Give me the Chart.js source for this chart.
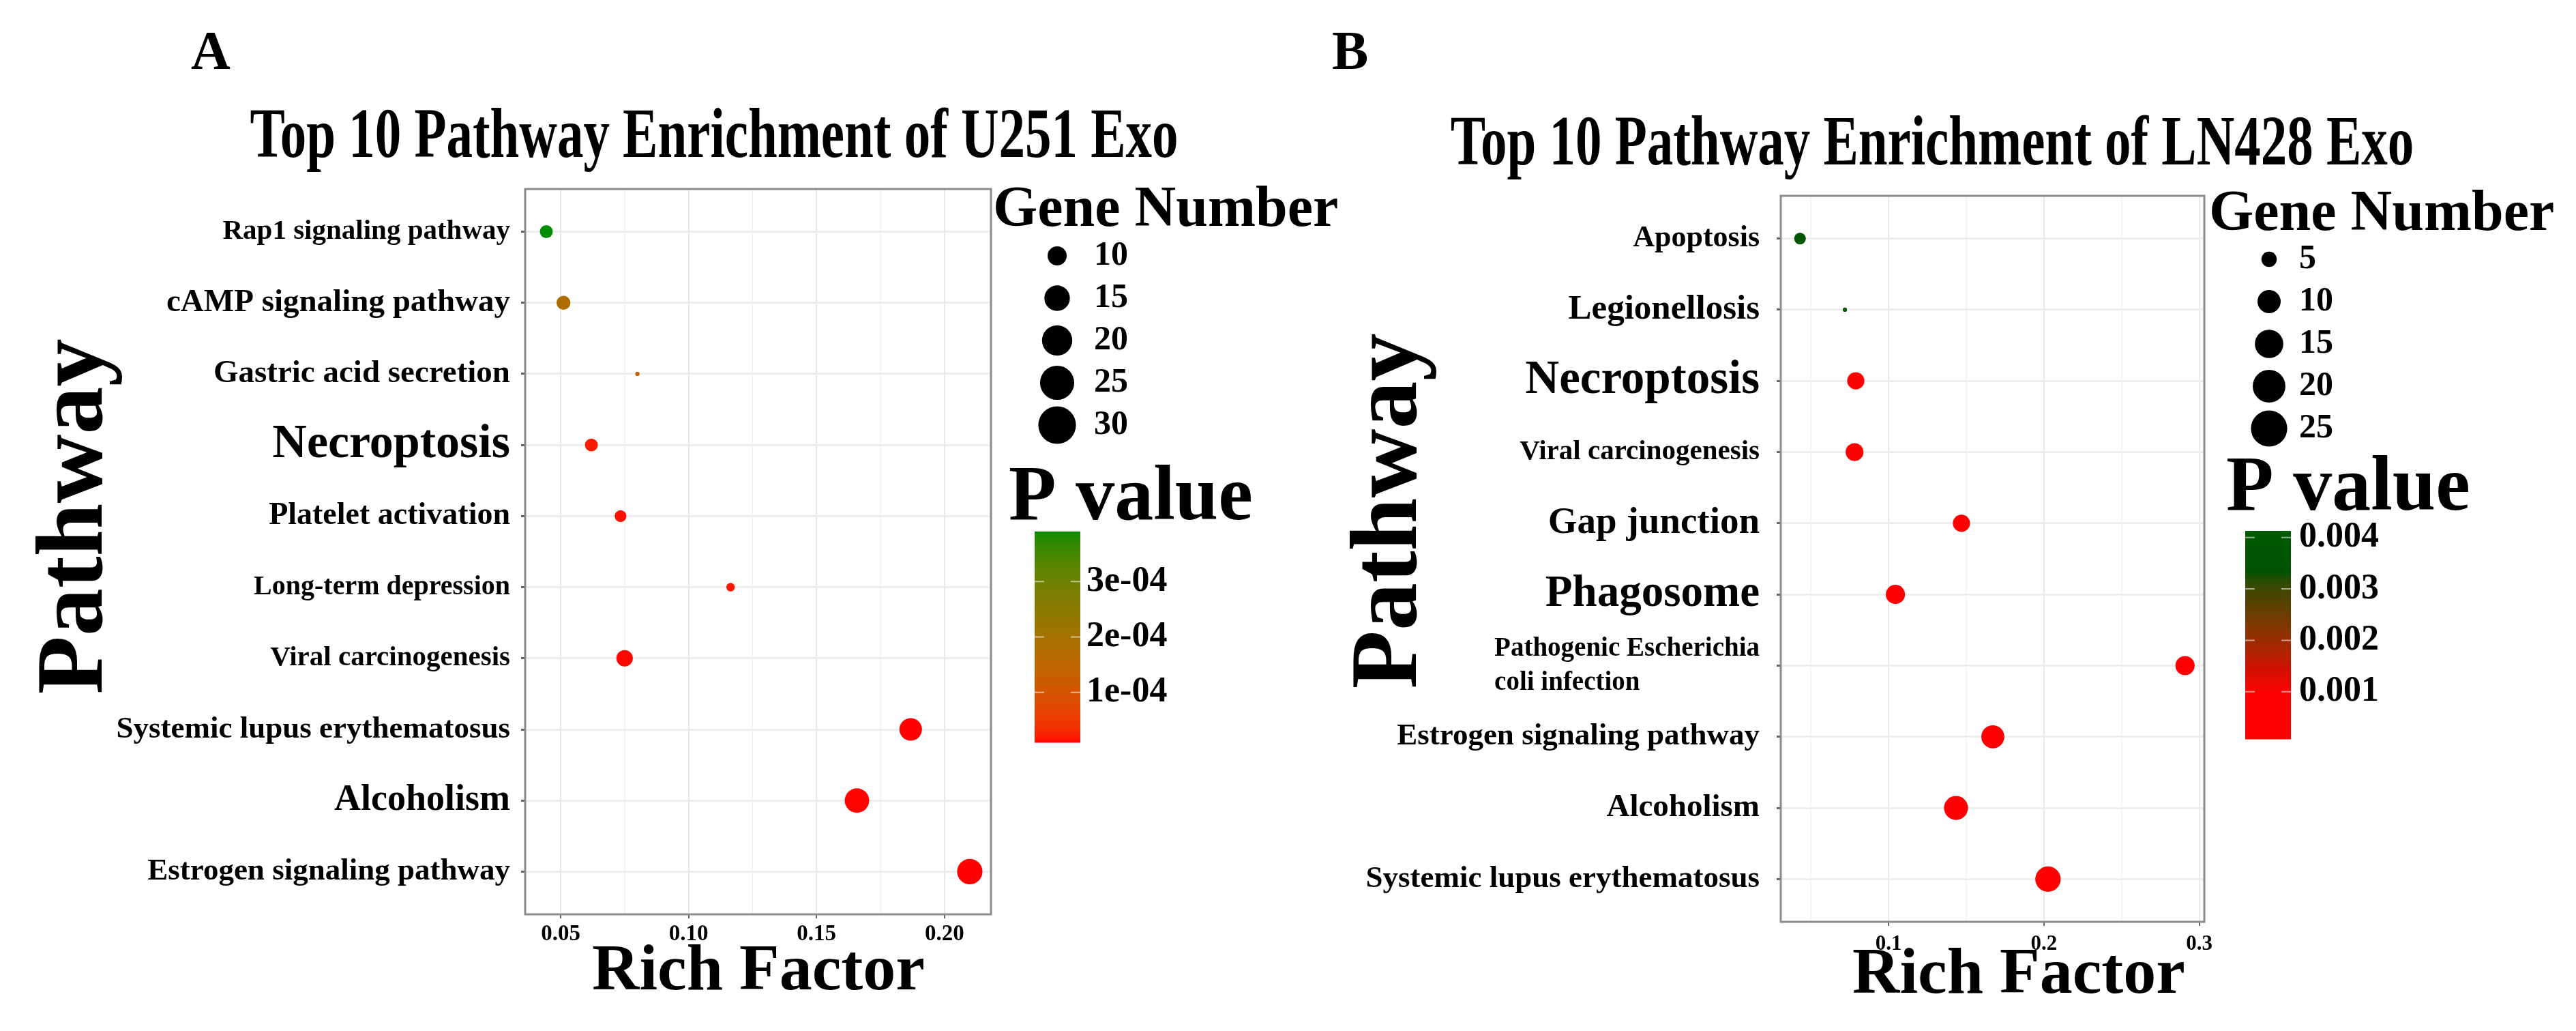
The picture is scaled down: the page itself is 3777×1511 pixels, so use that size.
<!DOCTYPE html>
<html>
<head>
<meta charset="utf-8">
<script src="https://cdn.jsdelivr.net/npm/chart.js@4/dist/chart.umd.min.js"></script>
<style>
  html, body { margin: 0; padding: 0; background: #fff; }
  #wrap { position: relative; width: 3777px; height: 1511px; }
  .panel { position: absolute; top: 0; height: 1511px; }
  #panelA { left: 0; width: 2000px; }
  #panelB { left: 1888px; width: 1889px; }
</style>
</head>
<body>
<div id="wrap">
  <div class="panel" id="panelA"><canvas id="chartA"></canvas></div>
  <div class="panel" id="panelB"><canvas id="chartB"></canvas></div>
</div>
<script>
// Panel A - U251 Exo
const pathwaysA = ['Rap1 signaling pathway', 'cAMP signaling pathway', 'Gastric acid secretion', 'Necroptosis',
  'Platelet activation', 'Long-term depression', 'Viral carcinogenesis', 'Systemic lupus erythematosus',
  'Alcoholism', 'Estrogen signaling pathway'];
const richA = [0.0444, 0.0511, 0.0800, 0.0620, 0.0734, 0.1164, 0.0750, 0.1868, 0.1658, 0.2099];
const genesA = [10, 11, 6, 10, 9, 7, 14, 24, 28, 30];
const pvalA = [3.9e-4, 1.8e-4, 1.25e-4, 2.0e-5, 1.5e-5, 1.8e-5, 1.2e-5, 1.0e-5, 1.1e-5, 1.0e-5];
const xTicksA = [0.05, 0.10, 0.15, 0.20];
const xTickLabelsA = ['0.05', '0.10', '0.15', '0.20'];
const sizeBreaksA = [10, 15, 20, 25, 30];
const pTicksA = [1e-4, 2e-4, 3e-4];
const pTickLabelsA = ['1e-04', '2e-04', '3e-04'];

// Panel B - LN428 Exo
const pathwaysB = ['Apoptosis', 'Legionellosis', 'Necroptosis', 'Viral carcinogenesis', 'Gap junction',
  'Phagosome', ['Pathogenic Escherichia', 'coli infection'], 'Estrogen signaling pathway',
  'Alcoholism', 'Systemic lupus erythematosus'];
const richB = [0.0430, 0.0719, 0.0789, 0.0781, 0.1469, 0.1044, 0.2908, 0.1671, 0.1434, 0.2026];
const genesB = [6, 3, 12, 13, 12, 15, 15, 22, 24, 27];
const pvalB = [3.6e-3, 4.13e-3, 3e-4, 4e-4, 2e-4, 5e-4, 3e-4, 1e-4, 8e-5, 1.5e-4];
const xTicksB = [0.1, 0.2, 0.3];
const xTickLabelsB = ['0.1', '0.2', '0.3'];
const sizeBreaksB = [5, 10, 15, 20, 25];
const pTicksB = [0.001, 0.002, 0.003, 0.004];
const pTickLabelsB = ['0.001', '0.002', '0.003', '0.004'];

const FONT = '"Liberation Serif", "DejaVu Serif", serif';

// label font sizes (the figure uses a different size per pathway name)
const labelSizesA = [41, 47, 47, 70, 46, 40, 41, 45, 54, 45];
const labelSizesB = [44, 51, 69, 41, 55, 65, 39, 45, 47, 45];

// colour scales
const stopsA = [[0, '#ff0000'], [1, '#008b00']];
const stopsB = [[0, '#ff0000'], [0.22, '#ff0000'], [0.35, '#cc1100'], [0.47, '#9c2a00'],
  [0.6, '#6c3c00'], [0.72, '#3c4600'], [0.8, '#005200'], [1, '#005a00']];

function hexToLab(hex) {
  const c = [1, 3, 5].map(i => parseInt(hex.substr(i, 2), 16) / 255)
    .map(v => v <= 0.04045 ? v / 12.92 : Math.pow((v + 0.055) / 1.055, 2.4));
  const X = (c[0] * 0.4124 + c[1] * 0.3576 + c[2] * 0.1805) / 0.95047;
  const Y = c[0] * 0.2126 + c[1] * 0.7152 + c[2] * 0.0722;
  const Z = (c[0] * 0.0193 + c[1] * 0.1192 + c[2] * 0.9505) / 1.08883;
  const f = t => t > 0.008856 ? Math.cbrt(t) : 7.787 * t + 16 / 116;
  const fx = f(X), fy = f(Y), fz = f(Z);
  return [116 * fy - 16, 500 * (fx - fy), 200 * (fy - fz)];
}

function labToRgb(L, a, b) {
  const fy = (L + 16) / 116, fx = fy + a / 500, fz = fy - b / 200;
  const inv = t => t * t * t > 0.008856 ? t * t * t : (t - 16 / 116) / 7.787;
  const X = inv(fx) * 0.95047, Y = inv(fy), Z = inv(fz) * 1.08883;
  const r = X * 3.2406 - Y * 1.5372 - Z * 0.4986;
  const g = -X * 0.9689 + Y * 1.8758 + Z * 0.0415;
  const bl = X * 0.0557 - Y * 0.2040 + Z * 1.0570;
  const gam = v => {
    v = v <= 0.0031308 ? 12.92 * v : 1.055 * Math.pow(v, 1 / 2.4) - 0.055;
    return Math.round(Math.min(1, Math.max(0, v)) * 255);
  };
  return `rgb(${gam(r)},${gam(g)},${gam(bl)})`;
}

function colorAt(stops, t) {
  t = Math.min(1, Math.max(0, t));
  let i = 0;
  while (i < stops.length - 2 && t > stops[i + 1][0]) i++;
  const [t0, c0] = stops[i], [t1, c1] = stops[i + 1];
  const u = t1 > t0 ? (t - t0) / (t1 - t0) : 0;
  const l0 = hexToLab(c0), l1 = hexToLab(c1);
  return labToRgb(l0[0] + (l1[0] - l0[0]) * u, l0[1] + (l1[1] - l0[1]) * u, l0[2] + (l1[2] - l0[2]) * u);
}

// ggplot-like area scale for point size
function diameter(v, gmin, gmax, unit) {
  const t = gmax > gmin ? (v - gmin) / (gmax - gmin) : 0;
  return unit * (1 + 5 * Math.sqrt(Math.max(0, t)));
}

const meas = document.createElement('canvas').getContext('2d');
function padLines(label, size) {
  if (!Array.isArray(label)) return label;
  meas.font = `bold ${size}px ${FONT}`;
  const w0 = meas.measureText(label[0]).width;
  return label.map(l => {
    let s = l;
    while (meas.measureText(s + ' ').width <= w0) s += ' ';
    return s;
  });
}

function drawText(ctx, str, x, y, size, align, opts = {}) {
  ctx.save();
  ctx.translate(x, y);
  if (opts.rot) ctx.rotate(opts.rot);
  if (opts.sx) ctx.scale(opts.sx, 1);
  ctx.font = `bold ${size}px ${FONT}`;
  ctx.textAlign = align;
  ctx.textBaseline = opts.baseline || 'alphabetic';
  ctx.fillStyle = '#000';
  ctx.fillText(str, 0, 0);
  ctx.restore();
}

function decorPlugin(cfg) {
  return {
    id: 'decor',
    afterDraw(chart) {
      const ctx = chart.ctx;
      const area = chart.chartArea;

      // panel frame
      ctx.save();
      ctx.strokeStyle = '#8c8c8c';
      ctx.lineWidth = 3;
      ctx.strokeRect(area.left, area.top, area.right - area.left, area.bottom - area.top);
      ctx.restore();

      drawText(ctx, cfg.letter, cfg.letterX, 101, 80, 'left');
      drawText(ctx, cfg.title, cfg.titleX, cfg.titleY, 104, 'center', { sx: 0.74 });
      drawText(ctx, 'Pathway', cfg.yTitleX, cfg.yTitleY, 140, 'center', { rot: -Math.PI / 2 });
      drawText(ctx, 'Rich Factor', cfg.xTitleX, cfg.xTitleY, 96, 'center');

      // size legend
      const sl = cfg.size;
      drawText(ctx, 'Gene Number', sl.titleX, sl.titleY, 84, 'left');
      sl.breaks.forEach((v, i) => {
        const y = sl.firstRow + i * 62;
        const d = diameter(v, sl.gmin, sl.gmax, 9.2);
        ctx.beginPath();
        ctx.fillStyle = '#000';
        ctx.arc(sl.dotX, y, d / 2, 0, Math.PI * 2);
        ctx.fill();
        drawText(ctx, String(v), sl.labelX, y, 50, 'left', { baseline: 'middle' });
      });

      // colour bar
      const cb = cfg.bar;
      drawText(ctx, 'P value', cb.titleX, cb.titleY, 114, 'left');
      const h = cb.bottom - cb.top;
      for (let k = 0; k < h; k++) {
        ctx.fillStyle = colorAt(cb.stops, 1 - k / h);
        ctx.fillRect(cb.x, cb.top + k, cb.w, 1.5);
      }
      cb.ticks.forEach((p, i) => {
        const y = cb.bottom - (p - cb.pmin) / (cb.pmax - cb.pmin) * h;
        ctx.save();
        ctx.strokeStyle = 'rgba(255,255,255,0.55)';
        ctx.lineWidth = 2;
        ctx.beginPath();
        ctx.moveTo(cb.x, y); ctx.lineTo(cb.x + 14, y);
        ctx.moveTo(cb.x + cb.w - 14, y); ctx.lineTo(cb.x + cb.w, y);
        ctx.stroke();
        ctx.restore();
        drawText(ctx, cb.labels[i], cb.labelX, y, 52, 'left', { baseline: 'middle' });
      });
    }
  };
}

function makeChart(canvasId, d) {
  const pmin = Math.min(...d.pval), pmax = Math.max(...d.pval);
  const gmin = Math.min(...d.genes), gmax = Math.max(...d.genes);
  const xmin0 = Math.min(...d.rich), xmax0 = Math.max(...d.rich);
  const ex = (xmax0 - xmin0) * 0.05;
  const step = d.xTicks[1] - d.xTicks[0];
  const xAll = [];
  for (let v = d.xTicks[0] - step / 2; v <= xmax0 + ex; v += step / 2) {
    if (v >= xmin0 - ex) xAll.push(+v.toFixed(4));
  }
  const isMajor = v => d.xTicks.some(t => Math.abs(t - v) < 1e-6);

  return new Chart(document.getElementById(canvasId), {
    type: 'scatter',
    data: {
      datasets: [{
        data: d.rich.map((x, i) => ({ x: x, y: i + 1 })),
        pointRadius: d.genes.map(g => diameter(g, gmin, gmax, 6.2) / 2),
        pointBackgroundColor: d.pval.map(p => colorAt(d.stops, (p - pmin) / (pmax - pmin))),
        pointBorderWidth: 0,
        pointHoverRadius: d.genes.map(g => diameter(g, gmin, gmax, 6.2) / 2)
      }]
    },
    options: {
      responsive: true,
      maintainAspectRatio: false,
      devicePixelRatio: 1,
      animation: false,
      events: [],
      layout: { padding: d.padding },
      plugins: { legend: { display: false }, tooltip: { enabled: false } },
      scales: {
        x: {
          type: 'linear',
          min: xmin0 - ex,
          max: xmax0 + ex,
          afterFit: s => { s.height = 100; },
          afterBuildTicks: s => { s.ticks = xAll.map(v => ({ value: v })); },
          border: { display: false },
          grid: {
            color: c => isMajor(c.tick.value) ? '#e9e9e9' : '#f4f4f4',
            tickColor: c => isMajor(c.tick.value) ? '#666' : 'rgba(0,0,0,0)',
            lineWidth: 2,
            tickLength: 6
          },
          ticks: {
            autoSkip: false,
            maxRotation: 0,
            padding: d.xPad,
            color: '#000',
            font: { family: FONT, size: d.xFont, weight: 'bold' },
            callback: v => {
              const i = d.xTicks.findIndex(t => Math.abs(t - v) < 1e-6);
              return i >= 0 ? d.xTickLabels[i] : '';
            }
          }
        },
        y: {
          type: 'linear',
          reverse: true,
          min: 0.4,
          max: d.pathways.length + 0.6,
          afterFit: s => { s.width = d.yWidth; },
          afterBuildTicks: s => { s.ticks = d.pathways.map((_, i) => ({ value: i + 1 })); },
          border: { display: false },
          grid: { color: '#eeeeee', lineWidth: 3, tickColor: '#666', tickLength: 6 },
          ticks: {
            autoSkip: false,
            padding: d.yPad,
            color: '#000',
            font: c => ({ family: FONT, size: d.labelSizes[c.index], weight: 'bold', lineHeight: 1.28 }),
            callback: v => padLines(d.pathways[v - 1], d.labelSizes[v - 1])
          }
        }
      }
    },
    plugins: [decorPlugin({
      letter: d.letter, letterX: d.letterX,
      title: d.title, titleX: d.titleX, titleY: d.titleY,
      yTitleX: d.yTitleX, yTitleY: d.yTitleY,
      xTitleX: d.xTitleX, xTitleY: d.xTitleY,
      size: Object.assign({ breaks: d.sizeBreaks, gmin: gmin, gmax: gmax }, d.sizeLegend),
      bar: Object.assign({ stops: d.stops, pmin: pmin, pmax: pmax, ticks: d.pTicks, labels: d.pTickLabels }, d.colorBar)
    })]
  });
}

makeChart('chartA', {
  pathways: pathwaysA, rich: richA, genes: genesA, pval: pvalA,
  xTicks: xTicksA, xTickLabels: xTickLabelsA, sizeBreaks: sizeBreaksA,
  pTicks: pTicksA, pTickLabels: pTickLabelsA, stops: stopsA, labelSizes: labelSizesA,
  padding: { left: 0, top: 277, right: 547, bottom: 71 },
  yWidth: 770, yPad: 16, xPad: 4, xFont: 33,
  letter: 'A', letterX: 280,
  title: 'Top 10 Pathway Enrichment of U251 Exo', titleX: 1047, titleY: 230,
  yTitleX: 149, yTitleY: 757, xTitleX: 1112, xTitleY: 1450,
  sizeLegend: { titleX: 1456, titleY: 331, dotX: 1550, labelX: 1604, firstRow: 375 },
  colorBar: { titleX: 1479, titleY: 761, x: 1517, w: 67, top: 779, bottom: 1088, labelX: 1593 }
});

makeChart('chartB', {
  pathways: pathwaysB, rich: richB, genes: genesB, pval: pvalB,
  xTicks: xTicksB, xTickLabels: xTickLabelsB, sizeBreaks: sizeBreaksB,
  pTicks: pTicksB, pTickLabels: pTickLabelsB, stops: stopsB, labelSizes: labelSizesB,
  padding: { left: 0, top: 287, right: 545, bottom: 60 },
  yWidth: 723, yPad: 25, xPad: 8, xFont: 31,
  letter: 'B', letterX: 65,
  title: 'Top 10 Pathway Enrichment of LN428 Exo', titleX: 945, titleY: 241,
  yTitleX: 188, yTitleY: 749, xTitleX: 1072, xTitleY: 1455,
  sizeLegend: { titleX: 1351, titleY: 337, dotX: 1439, labelX: 1483, firstRow: 380 },
  colorBar: { titleX: 1376, titleY: 747, x: 1404, w: 67, top: 778, bottom: 1083, labelX: 1483 }
});
</script>
</body>
</html>
